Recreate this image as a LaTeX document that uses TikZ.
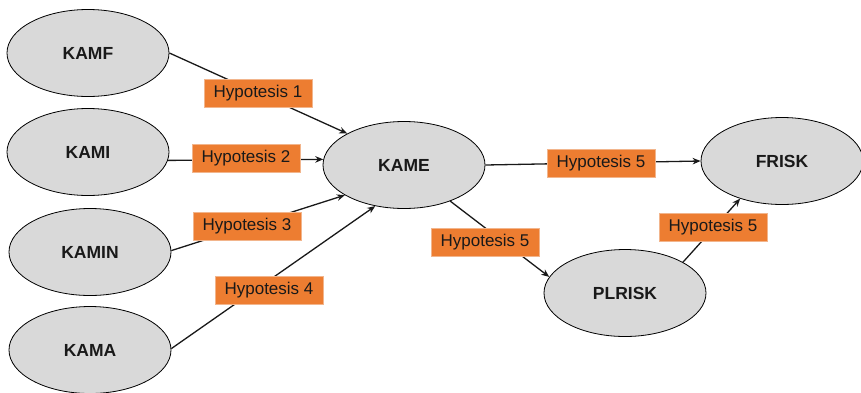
\documentclass[tikz,border=0pt]{standalone}
\usepackage{fontspec}
\setmainfont{Liberation Sans}
\usetikzlibrary{shapes.geometric,arrows.meta}
\definecolor{varfill}{HTML}{D9D9D9}
\definecolor{hypfill}{HTML}{ED7D31}
\definecolor{hypedge}{HTML}{F2B58C}
\begin{document}
\begin{tikzpicture}[x=1pt,y=-1pt,
  var/.style={ellipse,draw=black,line width=0.8pt,fill=varfill,
    minimum width=162pt,minimum height=87pt,inner sep=0pt,
    font=\fontsize{17.5}{20}\selectfont\bfseries,text=black!90},
  hyp/.style={rectangle,draw=hypedge,line width=0.6pt,fill=hypfill,
    minimum width=108pt,minimum height=28pt,inner sep=0pt,
    font=\fontsize{17}{19}\selectfont,text=black!90},
  link/.style={line width=1.3pt,black!90,-{Stealth[length=8pt,width=6.5pt]}}]
\useasboundingbox (0,0) rectangle (861,392);

% constructs
\node[var] (kamf)   at (88,53)   {KAMF};
\node[var] (kami)   at (88,152)  {KAMI};
\node[var] (kamin)  at (90,252)  {KAMIN};
\node[var] (kama)   at (90,350)  {KAMA};
\node[var] (kame)   at (404,165) {KAME};
\node[var] (frisk)  at (782,161) {FRISK};
\node[var] (plrisk) at (625,293) {PLRISK};

% paths
\draw[link] (kamf.east)  -- (kame.151);
\draw[link] (kami.-6)    -- (kame.176);
\draw[link] (kamin.1)    -- (kame.-153);
\draw[link] (kama.1)     -- (kame.-125);
\draw[link] (kame.east)  -- (frisk.west);
\draw[link] (kame.-38)   -- (plrisk.168);
\draw[link] (plrisk.28)  -- (frisk.-138);

% hypothesis labels
\node[hyp] (h1)  at (258,93)  {Hypotesis 1};
\node[hyp] (h2)  at (246,158) {Hypotesis 2};
\node[hyp] (h3)  at (247,226) {Hypotesis 3};
\node[hyp] (h4)  at (269,290) {Hypotesis 4};
\node[hyp] (h5a) at (601,163) {Hypotesis 5};
\node[hyp] (h5b) at (485,242) {Hypotesis 5};
\node[hyp] (h5c) at (713,227) {Hypotesis 5};
\end{tikzpicture}
\end{document}
